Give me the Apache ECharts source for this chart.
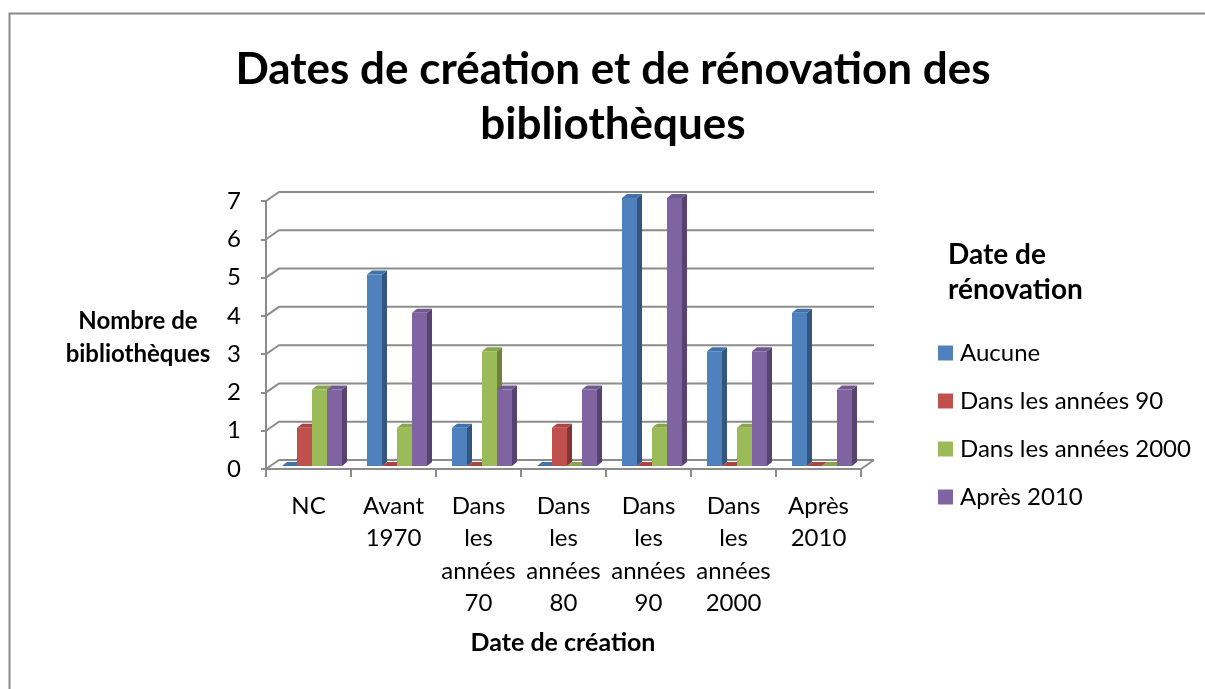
<!DOCTYPE html>
<html>
<head>
<meta charset="utf-8">
<script src="https://cdn.jsdelivr.net/npm/echarts@6/dist/echarts.min.js"></script>
<style>
html,body{margin:0;padding:0;background:#fff;}
#chart{width:1205px;height:689px;}
</style>
</head>
<body>
<div id="chart"></div>
<script>
// ---- data ----
const categories = ['NC', 'Avant 1970', 'Dans les années 70', 'Dans les années 80', 'Dans les années 90', 'Dans les années 2000', 'Après 2010'];
const seriesNames = ['Aucune', 'Dans les années 90', 'Dans les années 2000', 'Après 2010'];
const aucune = [0, 5, 1, 0, 7, 3, 4];
const annees90 = [1, 0, 0, 1, 0, 0, 0];
const annees2000 = [2, 1, 3, 0, 1, 1, 0];
const apres2010 = [2, 4, 2, 2, 7, 3, 2];
const yTicks = [0, 1, 2, 3, 4, 5, 6, 7];

const chartTitle = 'Dates de création et de rénovation des\nbibliothèques';
const yTitle = 'Nombre de\nbibliothèques';
const xTitle = 'Date de création';
const legendTitle = 'Date de\nrénovation';

// ---- styles ----
const FONT = 'Lato, "Open Sans", sans-serif';
const palette = [
  {base: '#4F81BD', side: '#34557D', top: '#4272AB'},
  {base: '#C0504D', side: '#843634', top: '#A94643'},
  {base: '#9BBB59', side: '#6B833B', top: '#88A64C'},
  {base: '#8064A2', side: '#56436F', top: '#705890'}
];
const GRID_COLOR = '#8C8C8C';
const BACK_DX = 13, BACK_DY = -9;   // back wall offset
const BAR_DX = 3.5, BAR_DY = -3;    // bar plane offset
const DEPTH_DX = 5, DEPTH_DY = -4;  // bar depth

const allValues = [aucune, annees90, annees2000, apres2010];

function barRenderer(si) {
  return function (params, api) {
    const ci = api.value(0), v = api.value(1);
    const base = api.coord([ci, 0]);
    const top = api.coord([ci, v]);
    const band = api.size([1, 0])[0];
    const bw = band * 15 / 85;
    const x0 = base[0] - 2 * bw + si * bw + BAR_DX;
    const yb = base[1] + BAR_DY, yt = top[1] + BAR_DY;
    const c = palette[si];
    return {
      type: 'group',
      children: [
        {type: 'polygon', shape: {points: [[x0 + bw, yt], [x0 + bw + DEPTH_DX, yt + DEPTH_DY], [x0 + bw + DEPTH_DX, yb + DEPTH_DY], [x0 + bw, yb]]}, style: {fill: c.side}},
        {type: 'polygon', shape: {points: [[x0, yt], [x0 + DEPTH_DX, yt + DEPTH_DY], [x0 + bw + DEPTH_DX, yt + DEPTH_DY], [x0 + bw, yt]]}, style: {fill: c.top}},
        {type: 'rect', shape: {x: x0, y: yt, width: bw, height: yb - yt}, style: {fill: c.base}}
      ]
    };
  };
}

function gridRenderer(params, api) {
  const cs = params.coordSys;
  const v = api.value(1);
  const y = api.coord([0, v])[1];
  const children = [{
    type: 'polyline',
    shape: {points: [[cs.x, y], [cs.x + BACK_DX, y + BACK_DY], [cs.x + cs.width + BACK_DX, y + BACK_DY]]},
    style: {stroke: GRID_COLOR, lineWidth: 2, fill: null}
  }];
  if (v === 0) {
    children.push({
      type: 'line',
      shape: {x1: cs.x + cs.width, y1: y, x2: cs.x + cs.width + BACK_DX, y2: y + BACK_DY},
      style: {stroke: GRID_COLOR, lineWidth: 2}
    });
  }
  return {type: 'group', children: children};
}

const series = [{
  type: 'custom',
  name: '__grid',
  z: 1,
  silent: true,
  renderItem: gridRenderer,
  data: yTicks.map(t => [0, t])
}];
seriesNames.forEach((name, si) => {
  series.push({
    type: 'custom',
    name: name,
    z: 2,
    itemStyle: {color: palette[si].base},
    renderItem: barRenderer(si),
    data: allValues[si].map((v, i) => [i, v])
  });
});

const chart = echarts.init(document.getElementById('chart'), null, {renderer: 'canvas'});
chart.setOption({
  animation: false,
  backgroundColor: '#fff',
  textStyle: {fontFamily: FONT},
  title: [
    {text: chartTitle, left: 613, top: 42, textAlign: 'center', padding: 0,
      textStyle: {fontFamily: FONT, fontSize: 44, fontWeight: 'bold', color: '#000', lineHeight: 55}},
    {text: yTitle, left: 138, top: 305, textAlign: 'center', padding: 0,
      textStyle: {fontFamily: FONT, fontSize: 24, fontWeight: 'bold', color: '#000', lineHeight: 33}},
    {text: xTitle, left: 563, top: 629, textAlign: 'center', padding: 0,
      textStyle: {fontFamily: FONT, fontSize: 25, fontWeight: 'bold', color: '#000', lineHeight: 28}},
    {text: legendTitle, left: 948, top: 237, textAlign: 'left', padding: 0,
      textStyle: {fontFamily: FONT, fontSize: 28, fontWeight: 'bold', color: '#000', lineHeight: 35}}
  ],
  legend: {
    data: seriesNames,
    orient: 'vertical',
    left: 938,
    top: 340,
    padding: 0,
    icon: 'rect',
    itemWidth: 15,
    itemHeight: 15,
    itemGap: 22,
    selectedMode: false,
    textStyle: {fontFamily: FONT, fontSize: 24, color: '#000', lineHeight: 26, padding: [0, 0, 0, 2]}
  },
  grid: {left: 266, right: 344, top: 201, bottom: 220, containLabel: false},
  xAxis: {
    type: 'category',
    data: categories,
    boundaryGap: true,
    axisLine: {show: true, lineStyle: {color: GRID_COLOR, width: 2}},
    axisTick: {show: true, length: 8, lineStyle: {color: GRID_COLOR, width: 2}},
    splitLine: {show: false},
    axisLabel: {
      interval: 0,
      margin: 21,
      color: '#000',
      fontFamily: FONT,
      fontSize: 24,
      lineHeight: 32.5,
      formatter: v => v.split(' ').join('\n')
    }
  },
  yAxis: {
    type: 'value',
    min: 0,
    max: 7,
    interval: 1,
    axisLine: {show: true, lineStyle: {color: GRID_COLOR, width: 2}},
    axisTick: {show: true, length: 5, lineStyle: {color: GRID_COLOR, width: 2}},
    splitLine: {show: false},
    axisLabel: {margin: 25, color: '#000', fontFamily: FONT, fontSize: 24}
  },
  graphic: [{
    type: 'polyline',
    shape: {points: [[9.5, 700], [9.5, 13.5], [1210, 13.5]]},
    style: {stroke: '#8A8A8A', lineWidth: 2, fill: null},
    silent: true
  }],
  series: series
});
</script>
</body>
</html>
